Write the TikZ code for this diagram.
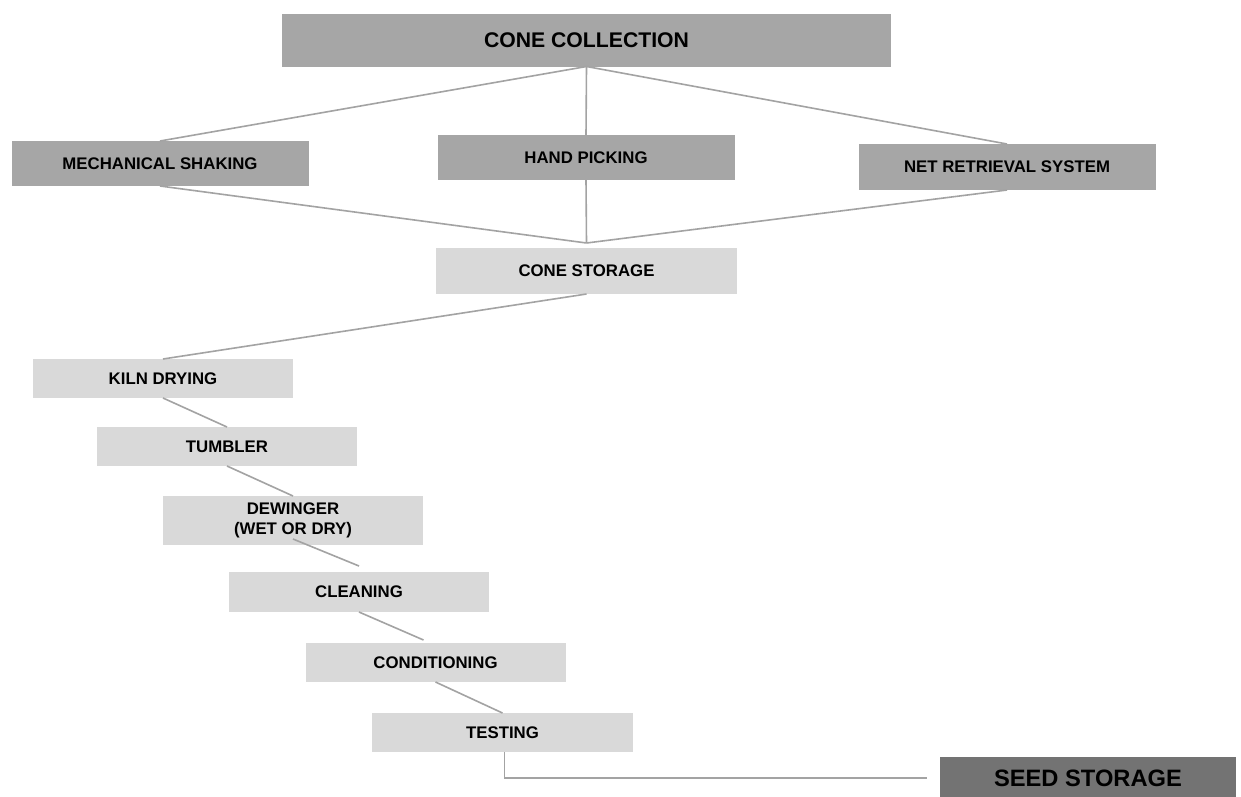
\documentclass[tikz,border=0pt]{standalone}
\usepackage{fontspec}
\setmainfont{Liberation Sans}
\definecolor{dk}{HTML}{A6A6A6}
\definecolor{lt}{HTML}{D9D9D9}
\definecolor{sd}{HTML}{737373}
\definecolor{ln}{HTML}{A3A3A3}
\begin{document}
\begin{tikzpicture}[x=1pt,y=-1pt,
  base/.style={inner sep=0pt, outer sep=0pt, align=center, text=black,
    font=\bfseries\fontsize{16.8}{20}\selectfont},
  dbox/.style={base, fill=dk},
  lbox/.style={base, fill=lt},
  conn/.style={draw=ln, line width=1.6pt}]
\useasboundingbox (0,0) rectangle (1241,796);
\clip (0,0) rectangle (1241,796);
\fill[white] (0,0) rectangle (1241,796);

\node[dbox, minimum width=609pt, minimum height=53pt, font=\bfseries\fontsize{21.2}{24}\selectfont] (cc) at (586.5,40) {CONE COLLECTION};
\node[dbox, minimum width=297pt, minimum height=45pt] (ms) at (160,163.5) {MECHANICAL SHAKING};
\node[dbox, minimum width=297pt, minimum height=45pt] (hp) at (586,157.5) {HAND PICKING};
\node[dbox, minimum width=297pt, minimum height=46pt] (nr) at (1007,167) {NET RETRIEVAL SYSTEM};
\node[lbox, minimum width=301pt, minimum height=46pt] (cs) at (586.5,271) {CONE STORAGE};
\node[lbox, minimum width=260pt, minimum height=39pt] (kd) at (163,378.5) {KILN DRYING};
\node[lbox, minimum width=260pt, minimum height=39pt] (tu) at (227,446.5) {TUMBLER};
\node[lbox, minimum width=260pt, minimum height=49pt] (dw) at (293,520.5) {DEWINGER\\(WET OR DRY)};
\node[lbox, minimum width=260pt, minimum height=40pt] (cl) at (359,592) {CLEANING};
\node[lbox, minimum width=260pt, minimum height=39pt] (co) at (435.5,662.5) {CONDITIONING};
\node[lbox, minimum width=261pt, minimum height=39pt] (te) at (502.5,732.5) {TESTING};
\node[base, fill=sd, minimum width=296pt, minimum height=42pt, font=\bfseries\fontsize{23.7}{26}\selectfont] (ss) at (1088,778) {SEED STORAGE};

\coordinate (csin) at ([yshift=5pt]cs.north);
\draw[conn] (cc.south) -- (ms.north);
\draw[conn] (cc.south) -- (hp.north);
\draw[conn] (cc.south) -- (nr.north);
\draw[conn] (ms.south) -- (csin);
\draw[conn] (hp.south) -- (csin);
\draw[conn] (nr.south) -- (csin);
\draw[conn] (cs.south) -- (kd.north);
\draw[conn] (kd.south) -- (tu.north);
\draw[conn] (tu.south) -- (dw.north);
\draw[conn] ([yshift=6pt]dw.south) -- ([yshift=6pt]cl.north);
\draw[conn] (cl.south) -- ([xshift=-12pt,yshift=3pt]co.north);
\draw[conn] (co.south) -- (te.north);
\coordinate (ssin) at ([xshift=-13pt]ss.west);
\draw[conn] ([xshift=2pt]te.south) |- (ssin);
\end{tikzpicture}
\end{document}
